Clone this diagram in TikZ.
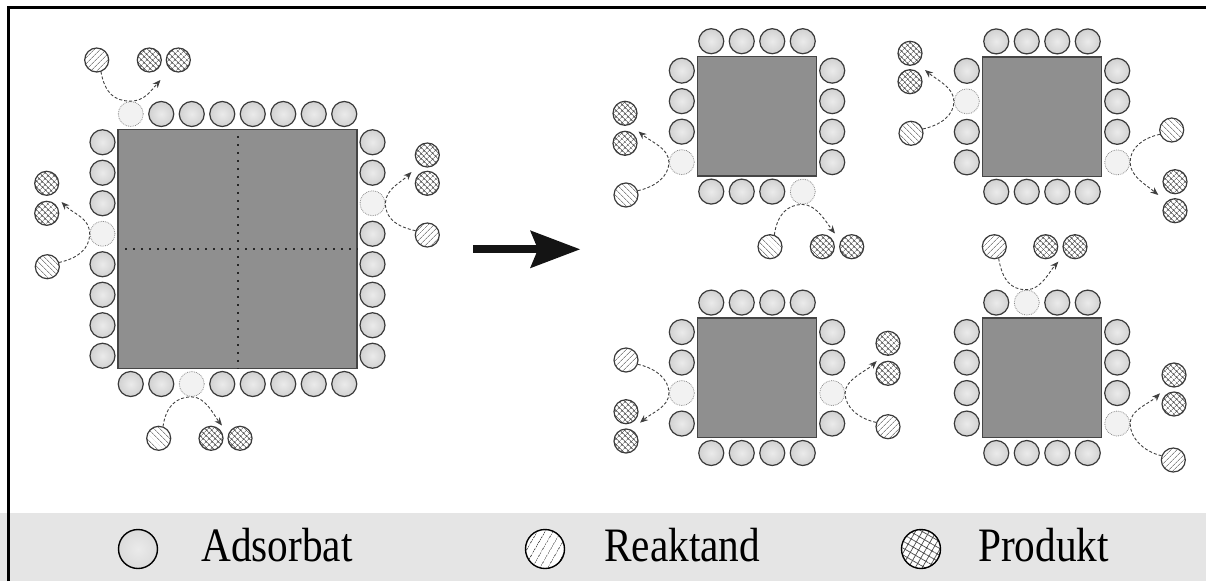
\documentclass[tikz,border=0pt]{standalone}
\usepackage{fontspec}
\setmainfont{Liberation Serif}
\usetikzlibrary{arrows.meta,patterns.meta,calc}

\definecolor{chipgray}{HTML}{8F8F8F}
\definecolor{chipedge}{HTML}{454545}
\definecolor{siteedge}{HTML}{3A3A3A}
\definecolor{legendbg}{HTML}{E5E5E5}
\definecolor{hatchgray}{HTML}{4A4A4A}

\tikzset{
  chip/.style={rectangle, draw=chipedge, line width=1.4pt, fill=chipgray,
    minimum size=#1, inner sep=0pt},
  ads/.style={circle, minimum size=25pt, inner sep=0pt, draw=siteedge,
    line width=1.2pt, shade, inner color=black!8, outer color=black!18},
  freed/.style={circle, minimum size=25pt, inner sep=0pt, draw=black!45,
    densely dotted, line width=0.8pt, fill=black!5},
  reac/.style={circle, minimum size=24pt, inner sep=0pt, draw=siteedge,
    line width=1.2pt, preaction={fill=white},
    pattern={Lines[angle=#1,distance=4pt,line width=0.6pt]}, pattern color=hatchgray},
  prod/.style={circle, minimum size=24pt, inner sep=0pt, draw=siteedge,
    line width=1.2pt, preaction={fill=white},
    pattern={Hatch[angle=45,distance=4pt,line width=0.6pt]}, pattern color=hatchgray},
  conn/.style={draw=black!75, dash pattern=on 3pt off 2pt, line width=0.9pt,
    -{Stealth[length=8pt,width=6.5pt]}},
  cut/.style={draw=black!85, line width=2pt, dash pattern=on 2pt off 6pt},
  legads/.style={circle, minimum size=39pt, inner sep=0pt, draw=black,
    line width=1.4pt, shade, inner color=black!8, outer color=black!14},
  legreac/.style={circle, minimum size=39pt, inner sep=0pt, draw=black,
    line width=1.4pt, preaction={fill=white},
    pattern={Lines[angle=60,distance=6.5pt,line width=0.7pt]}, pattern color=hatchgray},
  legprod/.style={circle, minimum size=39pt, inner sep=0pt, draw=black,
    line width=1.4pt, preaction={fill=white},
    pattern={Hatch[angle=60,distance=6pt,line width=0.7pt]}, pattern color=hatchgray},
  legtext/.style={anchor=base west, inner sep=0pt,
    font=\fontsize{48}{50}\selectfont},
}

% #1 name, #2/#3 centre, #4 side length, #5 sites per side,
% #6..#9 index of the vacated site on top/bottom/left/right (0 = none)
\newcommand{\chipwithsites}[9]{%
  \node[chip=#4] (#1) at (#2,#3) {};
  \foreach \i in {1,...,#5}{%
    \pgfmathsetmacro{\off}{(\i-(#5+1)/2)*30.5}%
    \pgfmathsetmacro{\gap}{#4/2+15.5}%
    \ifnum\i=#6\relax\tikzset{sitestyle/.style={freed}}\else\tikzset{sitestyle/.style={ads}}\fi
    \node[sitestyle] (#1-t-\i) at ({#2+\off},{#3-\gap}) {};
    \ifnum\i=#7\relax\tikzset{sitestyle/.style={freed}}\else\tikzset{sitestyle/.style={ads}}\fi
    \node[sitestyle] (#1-b-\i) at ({#2+\off},{#3+\gap}) {};
    \ifnum\i=#8\relax\tikzset{sitestyle/.style={freed}}\else\tikzset{sitestyle/.style={ads}}\fi
    \node[sitestyle] (#1-l-\i) at ({#2-\gap},{#3+\off}) {};
    \ifnum\i=#9\relax\tikzset{sitestyle/.style={freed}}\else\tikzset{sitestyle/.style={ads}}\fi
    \node[sitestyle] (#1-r-\i) at ({#2+\gap},{#3+\off}) {};
  }%
}

\begin{document}
\begin{tikzpicture}[x=1pt,y=-1pt]
\useasboundingbox (0,0) rectangle (1206,581);

% legend band and frame
\fill[legendbg] (0,513) rectangle (1206,581);
\draw[line width=3pt, line join=miter] (8,581) -- (8,7.5) -- (1206,7.5);

% large particle with its cut lines
\chipwithsites{big}{237.5}{249}{239}{8}{1}{3}{4}{3}
\draw[cut] ($(big.north)+(0,7)$) -- (big.south);
\draw[cut] ($(big.west)+(8,0)$) -- (big.east);

% four fragments
\chipwithsites{tl}{757}{116.4}{119.4}{4}{0}{4}{4}{0}
\chipwithsites{tr}{1042}{116.6}{119.4}{4}{0}{0}{2}{4}
\chipwithsites{bl}{757}{377.8}{119.4}{4}{0}{0}{3}{3}
\chipwithsites{br}{1042}{377.8}{119.4}{4}{2}{0}{0}{4}

% splitting arrow
\coordinate (go-s) at (473,249.3);
\coordinate (go-e) at (580,249.3);
\draw[black!92, line width=8pt,
  -{Stealth[length=50pt 0 0, width=38pt 0 0, inset=8pt 0 0, line width=0pt]}]
  (go-s) -- (go-e);

% --- reactions on the large particle ---
% top
\node[reac=45] (bt-r) at (96.7,60) {};
\node[prod] (bt-p1) at (149.3,60) {};
\node[prod] (bt-p2) at (178.3,60) {};
\coordinate (bt-tip) at (160.5,80);
\draw[conn] (bt-r.-70) .. controls +(4,22) and +(-16,0) .. (big-t-1.north)
  .. controls +(14,0) and +(-9,10) .. (bt-tip);
% left
\node[reac=-45] (bl-r) at (47.3,266.7) {};
\node[prod] (bl-p1) at (46.7,183.3) {};
\node[prod] (bl-p2) at (46.7,213.3) {};
\coordinate (bl-tip) at (61.5,202);
\draw[conn] (bl-r.20) .. controls +(18,-4) and +(0,16) .. (big-l-4.west)
  .. controls +(0,-16) and +(12,12) .. (bl-tip);
% right
\node[reac=45] (br-r) at (427.3,235) {};
\node[prod] (br-p1) at (427.3,155) {};
\node[prod] (br-p2) at (427.3,183.3) {};
\coordinate (br-tip) at (411.5,172);
\draw[conn] (br-r.160) .. controls +(-18,-4) and +(0,16) .. (big-r-3.east)
  .. controls +(0,-14) and +(-10,10) .. (br-tip);
% bottom
\node[reac=-45] (bb-r) at (158.7,438.3) {};
\node[prod] (bb-p1) at (211,438.3) {};
\node[prod] (bb-p2) at (240,438.3) {};
\coordinate (bb-tip) at (222,425.5);
\draw[conn] (bb-r.70) .. controls +(3,-20) and +(-16,0) .. (big-b-3.south)
  .. controls +(14,0) and +(-8,-10) .. (bb-tip);

% --- fragment top left ---
\node[reac=-45] (tll-r) at (626,195) {};
\node[prod] (tll-p1) at (625,113.3) {};
\node[prod] (tll-p2) at (625,143.3) {};
\coordinate (tll-tip) at (638.5,131.5);
\draw[conn] (tll-r.20) .. controls +(18,-4) and +(0,14) .. (tl-l-4.west)
  .. controls +(0,-14) and +(12,10) .. (tll-tip);
\node[reac=-45] (tlb-r) at (770,246.7) {};
\node[prod] (tlb-p1) at (822.3,246.7) {};
\node[prod] (tlb-p2) at (851.7,246.7) {};
\coordinate (tlb-tip) at (835,233.5);
\draw[conn] (tlb-r.70) .. controls +(3,-20) and +(-16,0) .. (tl-b-4.south)
  .. controls +(14,0) and +(-8,-10) .. (tlb-tip);

% --- fragment top right ---
\node[reac=-45] (trl-r) at (911,133.3) {};
\node[prod] (trl-p1) at (910,53.3) {};
\node[prod] (trl-p2) at (910,81.7) {};
\coordinate (trl-tip) at (925,70);
\draw[conn] (trl-r.20) .. controls +(18,-4) and +(0,14) .. (tr-l-2.west)
  .. controls +(0,-14) and +(12,10) .. (trl-tip);
\node[reac=-45] (trr-r) at (1171.7,130) {};
\node[prod] (trr-p1) at (1175,181.7) {};
\node[prod] (trr-p2) at (1175,210.7) {};
\coordinate (trr-tip) at (1158.3,195);
\draw[conn] (trr-r.200) .. controls +(-18,4) and +(0,-14) .. (tr-r-4.east)
  .. controls +(0,14) and +(-12,-10) .. (trr-tip);

% --- fragment bottom left ---
\node[reac=45] (bll-r) at (626,360) {};
\node[prod] (bll-p1) at (626,411.7) {};
\node[prod] (bll-p2) at (626,441) {};
\coordinate (bll-tip) at (640,422.7);
\draw[conn] (bll-r.-20) .. controls +(18,4) and +(0,-14) .. (bl-l-3.west)
  .. controls +(0,14) and +(12,-10) .. (bll-tip);
\node[reac=45] (blr-r) at (888,426.7) {};
\node[prod] (blr-p1) at (888,343.3) {};
\node[prod] (blr-p2) at (888,373.3) {};
\coordinate (blr-tip) at (876.7,361);
\draw[conn] (blr-r.160) .. controls +(-18,-4) and +(0,14) .. (bl-r-3.east)
  .. controls +(0,-14) and +(-10,10) .. (blr-tip);

% --- fragment bottom right ---
\node[reac=45] (brt-r) at (994.3,246.7) {};
\node[prod] (brt-p1) at (1045.7,246.7) {};
\node[prod] (brt-p2) at (1075,246.7) {};
\coordinate (brt-tip) at (1058.3,261.7);
\draw[conn] (brt-r.-70) .. controls +(4,22) and +(-16,0) .. (br-t-2.north)
  .. controls +(14,0) and +(-9,10) .. (brt-tip);
\node[reac=45] (brr-r) at (1173.3,460) {};
\node[prod] (brr-p1) at (1174,375) {};
\node[prod] (brr-p2) at (1174,404) {};
\coordinate (brr-tip) at (1160,393.3);
\draw[conn] (brr-r.160) .. controls +(-18,-4) and +(0,14) .. (br-r-4.east)
  .. controls +(0,-14) and +(-10,10) .. (brr-tip);

% --- legend ---
\node[legads] (leg-a) at (138,549) {};
\node[legtext] (leg-at) at (201,561.7) {\scalebox{0.86}[1]{Adsorbat}};
\node[legreac] (leg-r) at (545,549) {};
\node[legtext] (leg-rt) at (604,561.7) {\scalebox{0.86}[1]{Reaktand}};
\node[legprod] (leg-p) at (921,549) {};
\node[legtext] (leg-pt) at (978,561.7) {\scalebox{0.86}[1]{Produkt}};
\end{tikzpicture}
\end{document}
